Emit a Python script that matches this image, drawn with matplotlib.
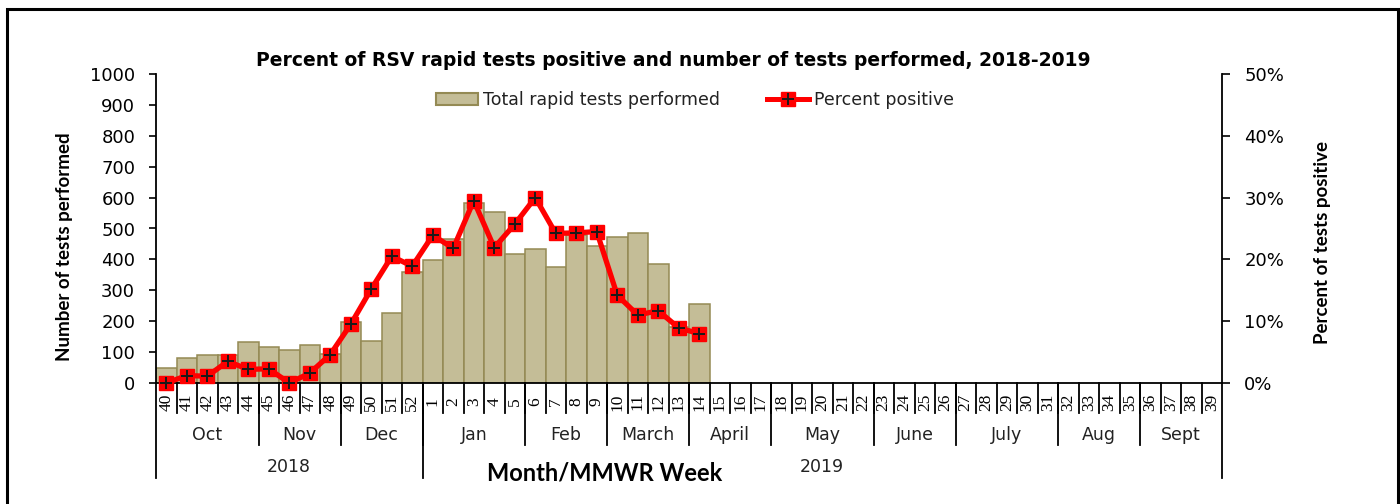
import matplotlib
matplotlib.use("Agg")
import matplotlib.pyplot as plt
from matplotlib.lines import Line2D
from matplotlib.patches import Patch, Rectangle
from matplotlib.ticker import FuncFormatter

# MMWR weeks shown on the x axis (Oct 2018 .. Sept 2019)
week_labels = [str(w) for w in list(range(40, 53)) + list(range(1, 40))]

# weekly values, weeks 40 .. 14
tests_performed = [50, 81, 89, 90, 133, 118, 108, 122, 95, 199, 137, 228, 359,
                   399, 465, 582, 553, 417, 435, 375, 479, 444, 472, 487, 386, 180, 256]
percent_positive = [0, 1.2, 1.1, 3.5, 2.2, 2.3, 0, 1.6, 4.6, 9.5, 15.2, 20.5, 18.9,
                    23.9, 21.8, 29.5, 21.9, 25.7, 30.0, 24.2, 24.3, 24.5, 14.2, 11.0, 11.7, 8.9, 8.0]

month_names = ["Oct", "Nov", "Dec", "Jan", "Feb", "March", "April", "May",
               "June", "July", "Aug", "Sept"]
month_weeks = [5, 4, 4, 5, 4, 4, 4, 5, 4, 5, 4, 4]
year_names = ["2018", "2019"]
year_weeks = [13, 39]

BAR_FACE = "#C4BD97"
BAR_EDGE = "#948A54"
SANS = "DejaVu Sans"
LABEL_FONT = ["Lato", "DejaVu Sans"]

fig = plt.figure(figsize=(14, 5.04), dpi=100)
ax = fig.add_axes([156 / 1400, 121 / 504, 1066 / 1400, 309 / 504])

x = list(range(len(tests_performed)))
ax.bar(x, tests_performed, width=1.0, color=BAR_FACE, edgecolor=BAR_EDGE,
       linewidth=1.1, zorder=2)
ax.set_xlim(-0.5, len(week_labels) - 0.5)
ax.set_ylim(0, 1000)
ax.set_yticks(range(0, 1001, 100))
ax.set_xticks([])
ax.tick_params(axis="y", direction="out", length=5, width=1.2, labelsize=13,
               pad=10)
for lab in ax.get_yticklabels():
    lab.set_family(SANS)
for side in ("top", "right"):
    ax.spines[side].set_visible(False)
ax.spines["left"].set_linewidth(1.3)
ax.spines["bottom"].set_linewidth(1.3)
ax.set_ylabel("Number of tests performed", family=LABEL_FONT, weight="bold",
              fontsize=13.5)
ax.yaxis.set_label_coords(-83 / 1066, 136 / 309)

ax2 = ax.twinx()
ax2.set_ylim(0, 50)
ax2.set_yticks(range(0, 51, 10))
ax2.yaxis.set_major_formatter(FuncFormatter(lambda v, p: f"{v:.0f}%"))
ax2.tick_params(axis="y", direction="out", length=6, width=1.2, labelsize=13,
                pad=10)
for lab in ax2.get_yticklabels():
    lab.set_family(SANS)
for side in ("top", "left", "bottom"):
    ax2.spines[side].set_visible(False)
ax2.spines["right"].set_linewidth(1.3)
ax2.set_ylabel("Percent of tests positive", family=LABEL_FONT, weight="bold",
               fontsize=13.5)
ax2.yaxis.set_label_coords(1158 / 1066, 140 / 309)

ax2.plot(x, percent_positive, color="red", linewidth=3.8, marker="s",
         markersize=9.5, markerfacecolor="red", markeredgecolor="red",
         clip_on=False, zorder=3)
ax2.plot(x, percent_positive, linestyle="none", marker="+", markersize=9,
         markeredgewidth=1.4, color="#1a1a1a", clip_on=False, zorder=4)

# multi-level category axis below the plot
trans = ax.get_xaxis_transform()
week_bottom = -30 / 309
month_bottom = -62 / 309
year_bottom = -95 / 309
for i, lab in enumerate(week_labels):
    ax.text(i, -19 / 309, lab, transform=trans, rotation=90, ha="center",
            va="center", family="Liberation Serif", fontsize=12.5)
    if i > 0:
        ax.plot([i - 0.5, i - 0.5], [0, week_bottom], transform=trans,
                color="black", lw=1.3, clip_on=False)

start = 0
for name, n in zip(month_names, month_weeks):
    ax.text(start + n / 2 - 0.5, -52 / 309, name, transform=trans, ha="center",
            va="center", family=SANS, fontsize=12.5, color="#222222")
    if start > 0:
        ax.plot([start - 0.5, start - 0.5], [0, month_bottom], transform=trans,
                color="black", lw=1.3, clip_on=False)
    start += n

start = 0
for name, n in zip(year_names, year_weeks):
    ax.text(start + n / 2 - 0.5, -84 / 309, name, transform=trans, ha="center",
            va="center", family=SANS, fontsize=12.5, color="#222222")
    ax.plot([start - 0.5, start - 0.5], [0, year_bottom], transform=trans,
            color="black", lw=1.3, clip_on=False)
    start += n
ax.plot([start - 0.5, start - 0.5], [0, year_bottom], transform=trans,
        color="black", lw=1.3, clip_on=False)

fig.text(605 / 1400, 1 - 473 / 504, "Month/MMWR Week", family=LABEL_FONT,
         weight="bold", fontsize=17, ha="center", va="center")

fig.text(673 / 1400, 1 - 61 / 504,
         "Percent of RSV rapid tests positive and number of tests performed, 2018-2019",
         family=SANS, weight="bold", fontsize=13.5, ha="center", va="center")

bar_handle = Patch(facecolor=BAR_FACE, edgecolor=BAR_EDGE, linewidth=1.5)
line_handle = (Line2D([], [], color="red", lw=3.6, marker="s", markersize=9.5,
                      markerfacecolor="red", markeredgecolor="red"),
               Line2D([], [], linestyle="none", marker="+", markersize=9,
                      markeredgewidth=1.4, color="#1a1a1a"))
fig.legend([bar_handle, line_handle],
           ["Total rapid tests performed", "Percent positive"],
           loc="center", bbox_to_anchor=(695 / 1400, 1 - 100 / 504), ncol=2,
           frameon=False, prop={"family": SANS, "size": 12.5},
           handlelength=2.4, handleheight=0.75, handletextpad=0.3,
           columnspacing=2.7, labelcolor="#222222")

# outer chart border
fig.add_artist(Rectangle((7 / 1400, -0.1), 1391 / 1400, 1.1 - 9 / 504,
                         transform=fig.transFigure, fill=False,
                         edgecolor="black", linewidth=2.2))

fig.savefig("out.png", dpi=100)
